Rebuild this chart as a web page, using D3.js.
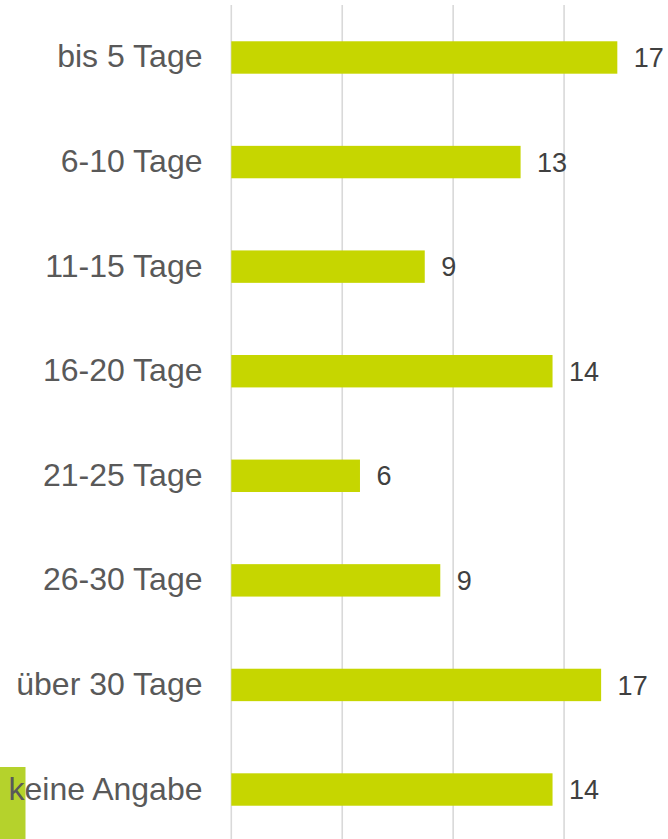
<!DOCTYPE html>
<html><head><meta charset="utf-8">
<script src="https://cdn.jsdelivr.net/npm/d3@7"></script>
<style>html,body{margin:0;padding:0;background:#fff;overflow:hidden}</style>
</head><body>
<script>
const categories = ["bis 5 Tage","6-10 Tage","11-15 Tage","16-20 Tage","21-25 Tage","26-30 Tage","über 30 Tage","keine Angabe"];
const values = [17.4, 13.04, 8.72, 14.48, 5.8, 9.42, 16.67, 14.48];
const gridTicks = [0, 5, 10, 15];

const W = 668, H = 839;
const svg = d3.select("body").append("svg").attr("width", W).attr("height", H);

const x = d3.scaleLinear().domain([0, 20]).range([231.3, 675]);
const y = d3.scaleBand().domain(categories).range([5.2, 841.8]).paddingInner(0.69).paddingOuter(0.345);

// decorative block bottom-left
svg.append("rect").attr("x", 0).attr("y", 767).attr("width", 25.5).attr("height", H - 767).attr("fill", "#b5d22c");

// gridlines
svg.append("g").selectAll("line").data(gridTicks).join("line")
  .attr("x1", d => x(d)).attr("x2", d => x(d))
  .attr("y1", 5).attr("y2", H)
  .attr("stroke", "#d9d9d9").attr("stroke-width", 1.6);

// bars
svg.append("g").selectAll("rect").data(values).join("rect")
  .attr("x", x(0)).attr("y", (d, i) => y(categories[i]))
  .attr("width", d => x(d) - x(0)).attr("height", y.bandwidth())
  .attr("fill", "#c6d600");

// category labels
svg.append("g").selectAll("text").data(categories).join("text")
  .attr("x", 202.5).attr("y", d => y(d) + y.bandwidth() / 2 + 10)
  .attr("text-anchor", "end")
  .attr("font-family", "'Liberation Sans', Arial, sans-serif")
  .attr("font-size", 32).attr("fill", "#595959")
  .text(d => d);

// value labels
const fmt = d3.format(".0f");
svg.append("g").selectAll("text").data(values).join("text")
  .attr("x", d => x(d) + 16.5).attr("y", (d, i) => y(categories[i]) + y.bandwidth() / 2 + 9.7)
  .attr("font-family", "'Liberation Sans', Arial, sans-serif")
  .attr("font-size", 27).attr("fill", "#404040")
  .text(d => fmt(d));
</script>
</body></html>
